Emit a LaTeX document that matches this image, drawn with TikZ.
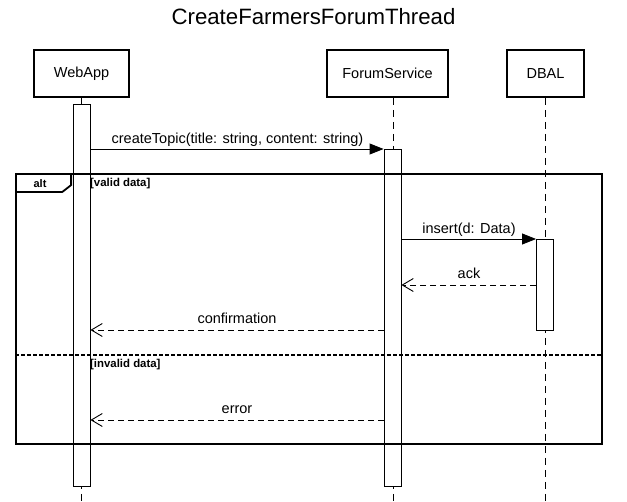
\documentclass[tikz,border=0pt]{standalone}
\usepackage{fontspec}
\setmainfont{Liberation Sans}
\usetikzlibrary{arrows.meta}

\begin{document}
\begin{tikzpicture}[x=1pt,y=1pt,yscale=-1,xscale=1,
  actor/.style={draw,line width=1.8pt,minimum height=47pt,inner sep=0pt,font=\fontsize{14.5}{17}\selectfont},
  actbar/.style={draw,fill=white,line width=0.9pt,minimum width=17pt,inner sep=0pt},
  lifeline/.style={line width=0.9pt,dash pattern=on 7pt off 5pt},
  call/.style={line width=0.9pt,-{Triangle[length=14pt,width=11pt]}},
  reply/.style={line width=0.9pt,dash pattern=on 6pt off 4pt,-{Straight Barb[length=11pt,width=13pt,line width=0.9pt]}},
  msg/.style={anchor=base,inner sep=0pt,font=\fontsize{14.5}{17}\selectfont},
  altbox/.style={draw,line width=1.8pt,inner sep=0pt},
  guard/.style={anchor=west,inner sep=0pt,font=\fontsize{11.4}{13}\selectfont\bfseries}]
\useasboundingbox (0,0) rectangle (627,502);

% Title
\node[font=\fontsize{22.2}{26}\selectfont] (title) at (313.5,17) {CreateFarmersForumThread};

% Participants
\node[actor,minimum width=95pt] (webapp) at (81.5,73.5) {WebApp};
\node[actor,minimum width=121pt] (forum) at (387.5,73.5) {ForumService};
\node[actor,minimum width=77pt] (dbal) at (545.5,73.5) {DBAL};

% Lifelines
\coordinate (wal) at (webapp.south);
\coordinate (fsl) at ([xshift=5.5pt]forum.south);
\coordinate (dbl) at (dbal.south);
\draw[lifeline] (wal) -- (wal |- 0,502);
\draw[lifeline] (fsl) -- (fsl |- 0,502);
\draw[lifeline] (dbl) -- (dbl |- 0,502);

% Activations
\node[actbar,minimum height=382pt] (waact) at (81.5,295) {};
\node[actbar,minimum height=337pt] (fsact) at (392.5,317.5) {};
\node[actbar,minimum height=91pt] (dbact) at (545,284.5) {};

% alt frame
\node[altbox,minimum width=586pt,minimum height=270pt] (alt) at (309,309) {};
\draw[line width=1.8pt] ([yshift=19pt]alt.north west) -- ++(47,0) -- ++(9,-7) -- ([xshift=56pt]alt.north west);
\node[anchor=center,inner sep=0pt,font=\fontsize{11}{13}\selectfont\bfseries] (altlbl) at (40,183.5) {alt};
\node[guard] (g1) at (90,183.5) {[valid data]};
\draw[line width=1.8pt,dash pattern=on 4pt off 2pt] (alt.west |- 0,355) -- (alt.east |- 0,355);
\node[guard] (g2) at (90,365) {[invalid data]};

% Messages
\coordinate (m1) at (0,149);
\coordinate (m2) at (0,239);
\coordinate (m3) at (0,285);
\coordinate (m4) at (0,330);
\coordinate (m5) at (0,420);
\draw[call] (waact.east |- m1) -- (fsact.west |- m1);
\node[msg] (l1) at (237.5,144) {createTopic(title: string, content: string)};
\draw[call] (fsact.east |- m2) -- (dbact.west |- m2);
\node[msg] (l2) at (469,234) {insert(d: Data)};
\draw[reply] (dbact.west |- m3) -- (fsact.east |- m3);
\node[msg] (l3) at (469,279) {ack};
\draw[reply] (fsact.west |- m4) -- (waact.east |- m4);
\node[msg] (l4) at (237,324) {confirmation};
\draw[reply] (fsact.west |- m5) -- (waact.east |- m5);
\node[msg] (l5) at (237,414) {error};

\end{tikzpicture}
\end{document}
